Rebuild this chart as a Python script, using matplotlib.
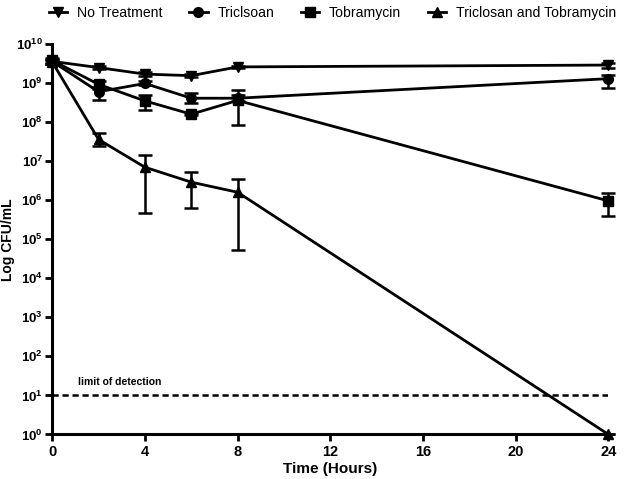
import matplotlib
matplotlib.use("Agg")
import matplotlib.pyplot as plt
import numpy as np

plt.rcParams['font.family'] = ['Liberation Sans', 'DejaVu Sans']

time = [0, 2, 4, 6, 8, 24]
series_names = ["No Treatment", "Triclsoan", "Tobramycin", "Triclosan and Tobramycin"]

no_treat = [3.6e9, 2.5e9, 1.7e9, 1.55e9, 2.6e9, 2.9e9]
no_treat_lo = [3.3e9, 2.3e9, 1.5e9, 1.45e9, 2.4e9, 2.5e9]
no_treat_hi = [3.9e9, 2.7e9, 1.9e9, 1.7e9, 2.8e9, 3.3e9]

triclosan = [3.6e9, 6.0e8, 9.8e8, 4.1e8, 4.1e8, 1.3e9]
triclosan_lo = [3.0e9, 3.6e8, 9.0e8, 3.1e8, 3.5e8, 7.6e8]
triclosan_hi = [4.2e9, 7.0e8, 1.1e9, 5.5e8, 5.0e8, 1.6e9]

tobra = [3.8e9, 9.3e8, 3.5e8, 1.6e8, 3.6e8, 9.6e5]
tobra_lo = [3.0e9, 8.0e8, 2.0e8, 1.5e8, 8.3e7, 4.0e5]
tobra_hi = [4.5e9, 1.1e9, 4.9e8, 1.7e8, 6.6e8, 1.55e6]

combo = [3.5e9, 3.6e7, 7.0e6, 2.9e6, 1.6e6, 1.0]
combo_lo = [3.0e9, 2.5e7, 4.7e5, 6.2e5, 5.2e4, 1.0]
combo_hi = [4.0e9, 5.4e7, 1.4e7, 5.4e6, 3.4e6, 1.0]

limit_of_detection = 10

fig = plt.figure(figsize=(6.25, 4.79), dpi=100)
ax = fig.add_axes([0.0835, 0.093, 0.890, 0.815])

data = [(no_treat, no_treat_lo, no_treat_hi, 'v'),
        (triclosan, triclosan_lo, triclosan_hi, 'o'),
        (tobra, tobra_lo, tobra_hi, 's'),
        (combo, combo_lo, combo_hi, '^')]

for (vals, lo, hi, m), name in zip(data, series_names):
    vals = np.array(vals); lo = np.array(lo); hi = np.array(hi)
    yerr = [vals - lo, hi - vals]
    h = ax.errorbar(time, vals, yerr=yerr, color='black', marker=m, markersize=7,
                    linewidth=2, elinewidth=1.8, capsize=5, capthick=1.8,
                    clip_on=False, label=name)
    h.lines[0].set_clip_on(False)
    for c in h.lines[1]:
        c.set_clip_on(False)
    for c in h.lines[2]:
        c.set_clip_on(False)

ax.axhline(limit_of_detection, color='black', linestyle=(0, (2.5, 1.5)), linewidth=1.8)
ax.text(1.1, 16, "limit of detection", fontsize=7.5, fontweight='bold', va='bottom')

ax.set_yscale('log')
ax.set_ylim(1, 1e10)
ax.set_xlim(0, 24)
ax.set_xticks([0, 4, 8, 12, 16, 20, 24])
ax.set_yticks([10.0**k for k in range(0, 11)])
ax.yaxis.set_minor_locator(matplotlib.ticker.NullLocator())

for s in ['top', 'right']:
    ax.spines[s].set_visible(False)
for s in ['left', 'bottom']:
    ax.spines[s].set_linewidth(2.2)
ax.tick_params(axis='both', width=2, length=5)
ax.tick_params(axis='x', pad=2.5, labelsize=10.5)
ax.tick_params(axis='y', pad=1.5, labelsize=9.5)
for lab in ax.get_xticklabels() + ax.get_yticklabels():
    lab.set_fontweight('bold')

ax.set_xlabel("Time (Hours)", fontsize=11, fontweight='bold', labelpad=2)
ax.set_ylabel("Log CFU/mL", fontsize=10, fontweight='bold')
ax.yaxis.set_label_coords(-0.066, 0.5)

leg_handles = [matplotlib.lines.Line2D([], [], color='black', marker=m, markersize=7, linewidth=2)
               for m in ['v', 'o', 's', '^']]
fig.legend(leg_handles, series_names, loc='upper left', bbox_to_anchor=(0.073, 0.994),
           ncol=4, frameon=False, fontsize=10.1, handlelength=1.3, columnspacing=1.9,
           handletextpad=0.7, borderpad=0.25, borderaxespad=0)

fig.savefig("out.png", dpi=100)
